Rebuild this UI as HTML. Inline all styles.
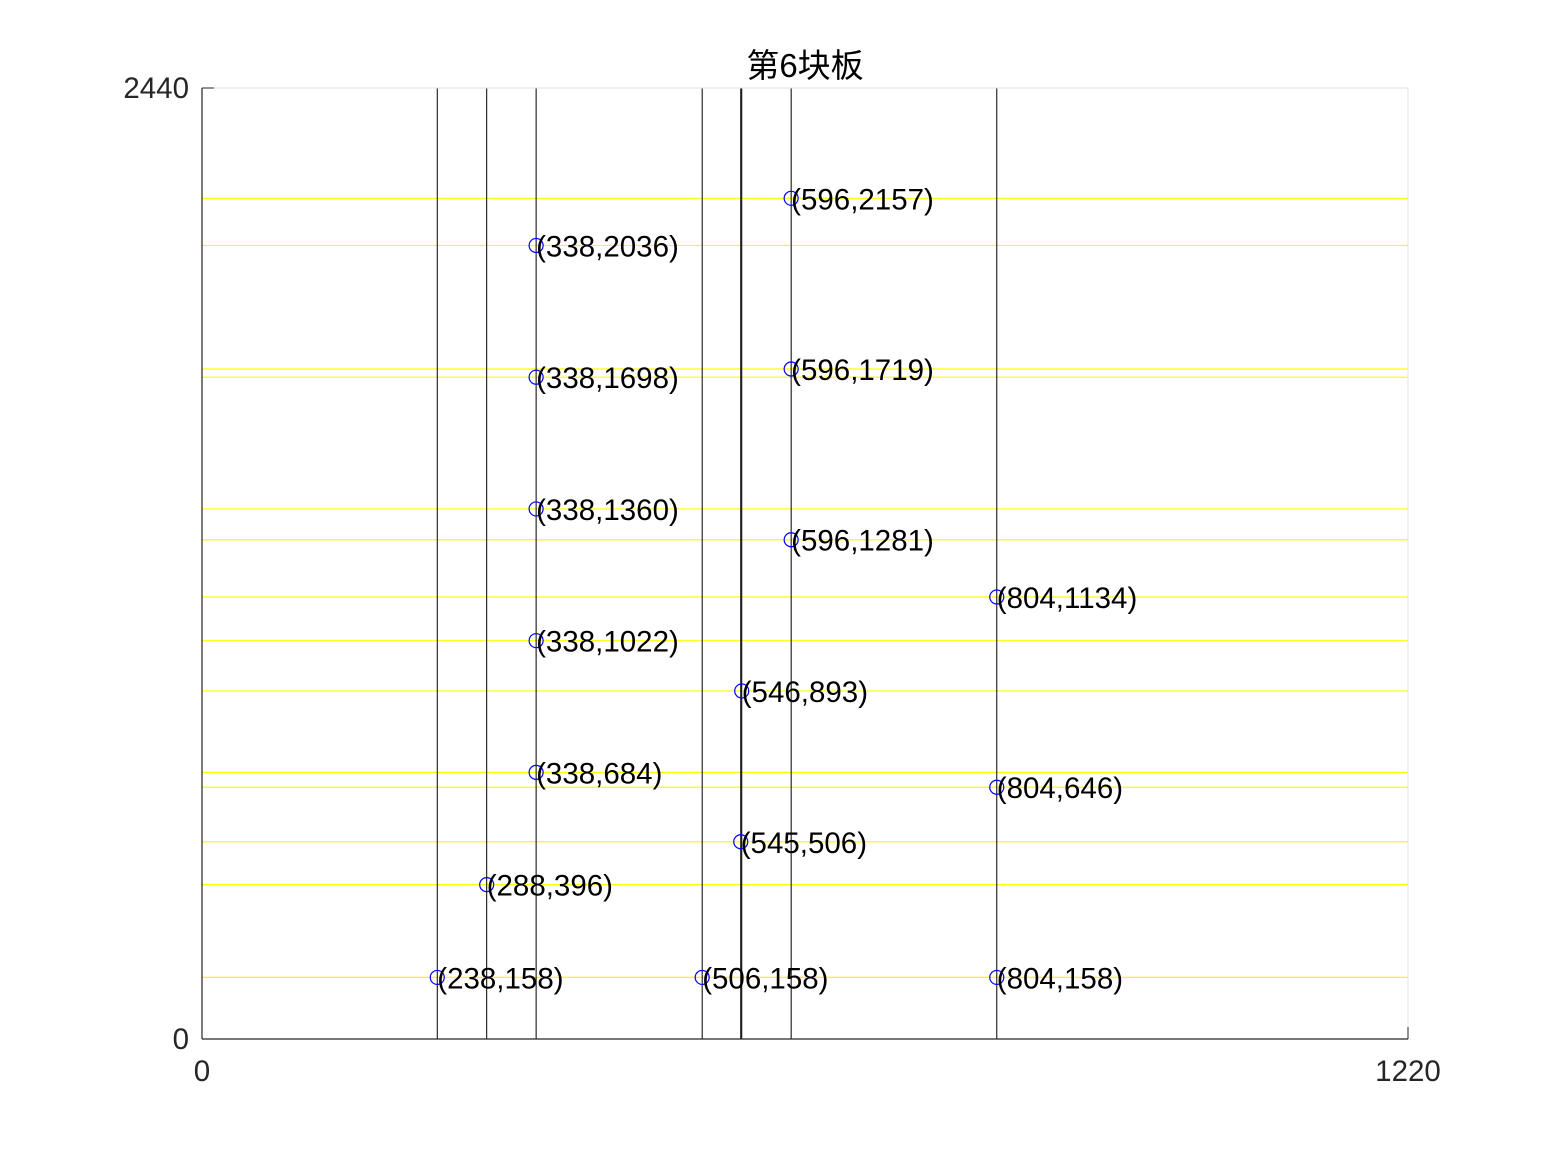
<!DOCTYPE html>
<html><head><meta charset="utf-8"><style>
html,body{margin:0;padding:0;background:#fff;}
svg{display:block;font-family:"Liberation Sans","Noto Sans CJK SC",sans-serif;}
</style></head><body>
<svg id="chart" width="1556" height="1167" viewBox="0 0 1556 1167">
<rect width="1556" height="1167" fill="#fff"/>
<text x="805" y="77" text-anchor="middle" font-size="33" fill="#000">第6块板</text>
<g id="hlines"></g><g id="vlines"></g>
<rect x="202" y="88" width="1206" height="951" fill="none" stroke="#e0e0e0" stroke-width="1"/>
<line x1="202" y1="88" x2="202" y2="1039" stroke="#262626" stroke-width="1.2"/>
<line x1="202" y1="1039" x2="1408" y2="1039" stroke="#262626" stroke-width="1.2"/>
<g id="ticks"></g>
<g id="points"></g>
</svg>
<script>
const xTicks=[0,1220];
const yTicks=[0,2440];
const px=[596,338,596,338,338,596,804,338,546,338,804,545,288,238,506,804];
const py=[2157,2036,1719,1698,1360,1281,1134,1022,893,684,646,506,396,158,158,158];
const vlinesX=[238,288,338,506,545,546,596,804];
const NS='http://www.w3.org/2000/svg';
const X=v=>202+v*(1206/1220);
const Y=v=>1039-v*(951/2440);
function mk(tag,attrs,parent){const e=document.createElementNS(NS,tag);for(const k in attrs)e.setAttribute(k,attrs[k]);parent.appendChild(e);return e;}
const hl=document.getElementById('hlines'),vl=document.getElementById('vlines'),tk=document.getElementById('ticks'),pt=document.getElementById('points');
py.forEach((v,i)=>{const l=mk('line',{x1:202,x2:1408,y1:Y(v),y2:Y(v),stroke:'#ffff00','stroke-width':1.2},hl);

});
vlinesX.forEach(v=>{const l=mk('line',{x1:X(v),x2:X(v),y1:88,y2:1039,stroke:'#000','stroke-width':1},vl);

});
xTicks.forEach(v=>{mk('line',{x1:X(v),x2:X(v),y1:1039,y2:1027,stroke:'#262626'},tk);
const t=mk('text',{x:X(v),y:1081,'text-anchor':'middle','font-size':29.5,fill:'#262626'},tk);t.textContent=v;

});
yTicks.forEach(v=>{mk('line',{x1:202,x2:214,y1:Y(v),y2:Y(v),stroke:'#262626'},tk);
const t=mk('text',{x:189,y:Y(v)+10,'text-anchor':'end','font-size':29.5,fill:'#262626'},tk);t.textContent=v;

});
px.forEach((v,i)=>{const c=mk('circle',{cx:X(v),cy:Y(py[i]),r:7,fill:'none',stroke:'#0000ff','stroke-width':1.2},pt);


const t=mk('text',{x:X(v),y:Y(py[i])+11,'font-size':29.5,fill:'#000'},pt);t.textContent='('+v+','+py[i]+')';

});
</script>
</body></html>
